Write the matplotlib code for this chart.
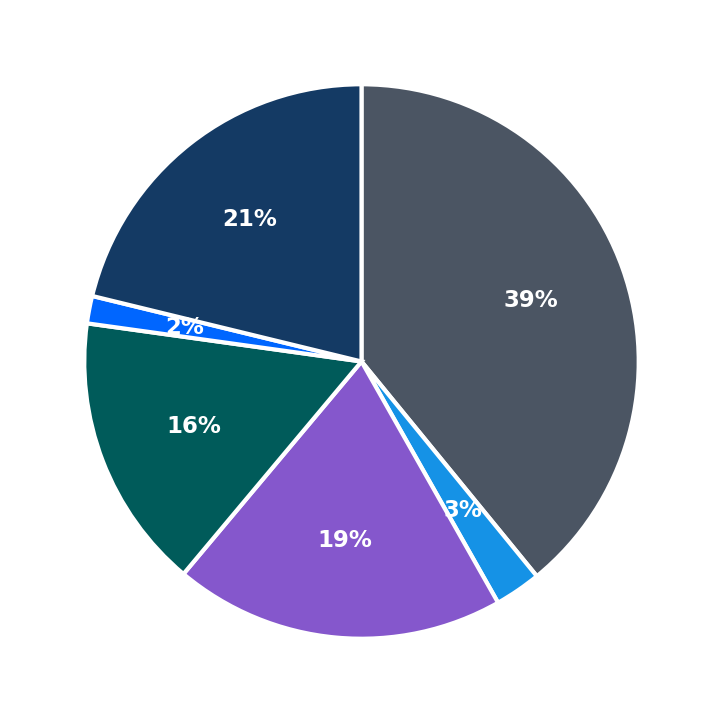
import matplotlib
matplotlib.use("Agg")
import matplotlib.pyplot as plt

labels = ["A", "B", "C", "D", "E", "F"]
values = [39.1, 2.7, 19.3, 16.1, 1.6, 21.2]
colors = ["#4b5563", "#1592e6", "#8557cc", "#005b5a", "#0066ff", "#143a64"]

fig = plt.figure(figsize=(7.23, 7.23), dpi=100)
ax = fig.add_axes([0, 0, 1, 1])
wedges, texts, autotexts = ax.pie(
    values, colors=colors, startangle=90, counterclock=False,
    autopct="%.0f%%", pctdistance=0.65,
    wedgeprops=dict(edgecolor="white", linewidth=3),
    textprops=dict(color="white", fontsize=16.5, fontweight="bold"),
)
ax.set_xlim(-1.304, 1.304)
ax.set_ylim(-1.304, 1.304)
ax.set_aspect("equal")
ax.axis("off")
fig.savefig("out.png", dpi=100)
